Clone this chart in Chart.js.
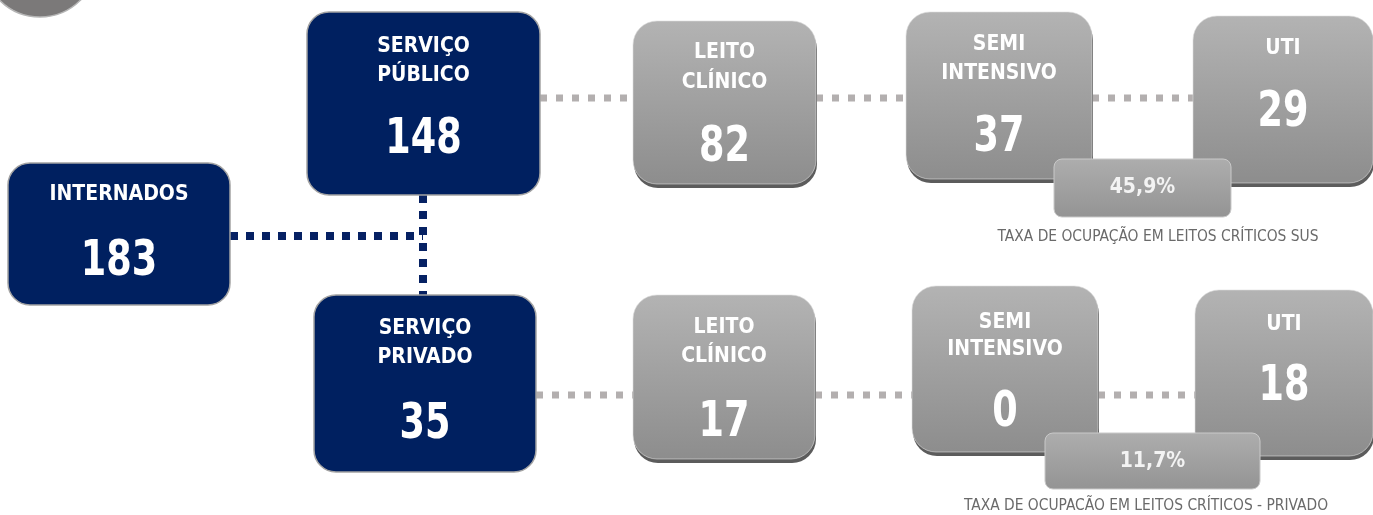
<!DOCTYPE html>
<html>
<head>
<meta charset="utf-8">
<script src="https://cdn.jsdelivr.net/npm/chart.js@4"></script>
<style>
  html, body { margin: 0; padding: 0; background: #fff; }
  #wrap { width: 1373px; height: 515px; position: relative; }
</style>
</head>
<body>
<div id="wrap"><canvas id="fluxo"></canvas></div>
<script>
// dados
const boxTitles = [
  ['INTERNADOS'],
  ['SERVIÇO', 'PÚBLICO'], ['LEITO', 'CLÍNICO'], ['SEMI', 'INTENSIVO'], ['UTI'],
  ['SERVIÇO', 'PRIVADO'], ['LEITO', 'CLÍNICO'], ['SEMI', 'INTENSIVO'], ['UTI']
];
const boxValues = [183, 148, 82, 37, 29, 35, 17, 0, 18];
const rateValues = ['45,9%', '11,7%'];
const rateLabels = ['TAXA DE OCUPAÇÃO EM LEITOS CRÍTICOS SUS', 'TAXA DE OCUPACÃO EM LEITOS CRÍTICOS - PRIVADO'];

// layout (coordenadas na escala 0..1373 x 0..515)
const boxLayout = [
  { x0: 8,    y0: 163, x1: 230,  y1: 305, kind: 'navy', ty: [195], ny: 262 },
  { x0: 307,  y0: 12,  x1: 540,  y1: 195, kind: 'navy', ty: [47, 76], ny: 140 },
  { x0: 633,  y0: 21,  x1: 816,  y1: 184, kind: 'gray', ty: [53, 83], ny: 148 },
  { x0: 906,  y0: 12,  x1: 1092, y1: 179, kind: 'gray', ty: [45, 74], ny: 138 },
  { x0: 1193, y0: 16,  x1: 1373, y1: 183, kind: 'gray', ty: [49], ny: 113 },
  { x0: 314,  y0: 295, x1: 536,  y1: 472, kind: 'navy', ty: [329, 358], ny: 425 },
  { x0: 633,  y0: 295, x1: 815,  y1: 459, kind: 'gray', ty: [328, 357], ny: 423 },
  { x0: 912,  y0: 286, x1: 1098, y1: 452, kind: 'gray', ty: [323, 350], ny: 413 },
  { x0: 1195, y0: 290, x1: 1373, y1: 456, kind: 'gray', ty: [325], ny: 387 }
];
const rateLayout = [
  { x0: 1054, y0: 159, x1: 1231, y1: 217, ty: 188, lx: 1158, ly: 237 },
  { x0: 1045, y0: 433, x1: 1260, y1: 489, ty: 462, lx: 1146, ly: 506 }
];
const grayLinks = [
  [540, 633, 98], [816, 906, 98], [1092, 1193, 98],
  [536, 633, 395], [815, 912, 395], [1098, 1195, 395]
];
const navyLinks = [
  [230, 236, 423, 236], [423, 195, 423, 295]
];

const FONT = '"DejaVu Sans Condensed", "DejaVu Sans", sans-serif';

function rr(ctx, x0, y0, x1, y1, r) {
  ctx.beginPath();
  ctx.moveTo(x0 + r, y0);
  ctx.arcTo(x1, y0, x1, y1, r);
  ctx.arcTo(x1, y1, x0, y1, r);
  ctx.arcTo(x0, y1, x0, y0, r);
  ctx.arcTo(x0, y0, x1, y0, r);
  ctx.closePath();
}

function squeezed(ctx, text, x, y, sx) {
  ctx.save();
  ctx.translate(x, y);
  ctx.scale(sx, 1);
  ctx.fillText(text, 0, 0);
  ctx.restore();
}

const diagrama = {
  id: 'diagrama',
  afterDatasetsDraw(chart) {
    const ctx = chart.ctx;
    const sx = chart.scales.x, sy = chart.scales.y;
    const px = v => sx.getPixelForValue(v);
    const py = v => sy.getPixelForValue(v);
    ctx.save();

    // circulo cinza no canto
    ctx.beginPath();
    ctx.arc(px(40), py(-40), 57, 0, Math.PI * 2);
    ctx.fillStyle = '#7b7979';
    ctx.fill();
    ctx.lineWidth = 1.5;
    ctx.strokeStyle = '#b5b5b5';
    ctx.stroke();

    // ligações
    ctx.lineCap = 'butt';
    ctx.setLineDash([7, 9]);
    ctx.lineWidth = 7;
    ctx.strokeStyle = '#b3afaf';
    grayLinks.forEach(l => {
      ctx.beginPath();
      ctx.moveTo(px(l[0]), py(l[2]));
      ctx.lineTo(px(l[1]), py(l[2]));
      ctx.stroke();
    });
    ctx.setLineDash([8, 8]);
    ctx.lineWidth = 8;
    ctx.strokeStyle = '#062163';
    navyLinks.forEach(l => {
      ctx.beginPath();
      ctx.moveTo(px(l[0]), py(l[1]));
      ctx.lineTo(px(l[2]), py(l[3]));
      ctx.stroke();
    });
    ctx.setLineDash([]);

    // caixas
    ctx.textAlign = 'center';
    ctx.textBaseline = 'middle';
    boxLayout.forEach((b, i) => {
      const x0 = px(b.x0), x1 = px(b.x1), y0 = py(b.y0), y1 = py(b.y1);
      const cx = (x0 + x1) / 2;
      if (b.kind === 'navy') {
        rr(ctx, x0, y0, x1, y1, 22);
        ctx.fillStyle = '#002060';
        ctx.fill();
        ctx.lineWidth = 1.5;
        ctx.strokeStyle = '#a3a3a3';
        ctx.stroke();
      } else {
        rr(ctx, x0 + 1, y0 + 4, x1 + 1, y1 + 4, 24);
        ctx.fillStyle = '#5c5c5c';
        ctx.fill();
        const g = ctx.createLinearGradient(0, y0, 0, y1);
        g.addColorStop(0, '#b3b3b3');
        g.addColorStop(1, '#8d8d8d');
        rr(ctx, x0, y0, x1, y1, 24);
        ctx.fillStyle = g;
        ctx.fill();
        ctx.lineWidth = 1;
        ctx.strokeStyle = 'rgba(220,220,220,0.6)';
        ctx.stroke();
      }
      ctx.fillStyle = '#ffffff';
      ctx.font = 'bold 21px ' + FONT;
      boxTitles[i].forEach((t, k) => ctx.fillText(t, cx, py(b.ty[k])));
      ctx.font = 'bold 49px ' + FONT;
      squeezed(ctx, String(boxValues[i]), cx, py(b.ny), 0.83);
    });

    // taxas
    rateLayout.forEach((r, i) => {
      const x0 = px(r.x0), x1 = px(r.x1), y0 = py(r.y0), y1 = py(r.y1);
      const g = ctx.createLinearGradient(0, y0, 0, y1);
      g.addColorStop(0, '#adadad');
      g.addColorStop(1, '#949494');
      rr(ctx, x0, y0, x1, y1, 8);
      ctx.fillStyle = g;
      ctx.fill();
      ctx.lineWidth = 1;
      ctx.strokeStyle = '#c9c9c9';
      ctx.stroke();
      ctx.fillStyle = '#f3f3f3';
      ctx.font = 'bold 21px ' + FONT;
      ctx.fillText(rateValues[i], (x0 + x1) / 2, py(r.ty));
      ctx.fillStyle = '#6a6a6a';
      ctx.font = '15.4px ' + FONT;
      ctx.fillText(rateLabels[i], px(r.lx), py(r.ly));
    });

    ctx.restore();
  }
};

new Chart(document.getElementById('fluxo'), {
  type: 'scatter',
  data: {
    datasets: [{
      label: 'caixas',
      data: boxLayout.map((b, i) => ({ x: (b.x0 + b.x1) / 2, y: b.ny, v: boxValues[i] })),
      pointRadius: 0
    }]
  },
  options: {
    responsive: true,
    maintainAspectRatio: false,
    animation: false,
    layout: { padding: 0 },
    plugins: { legend: { display: false }, tooltip: { enabled: false } },
    scales: {
      x: { type: 'linear', min: 0, max: 1373, display: false },
      y: { type: 'linear', min: 0, max: 515, reverse: true, display: false }
    }
  },
  plugins: [diagrama]
});
</script>
</body>
</html>
